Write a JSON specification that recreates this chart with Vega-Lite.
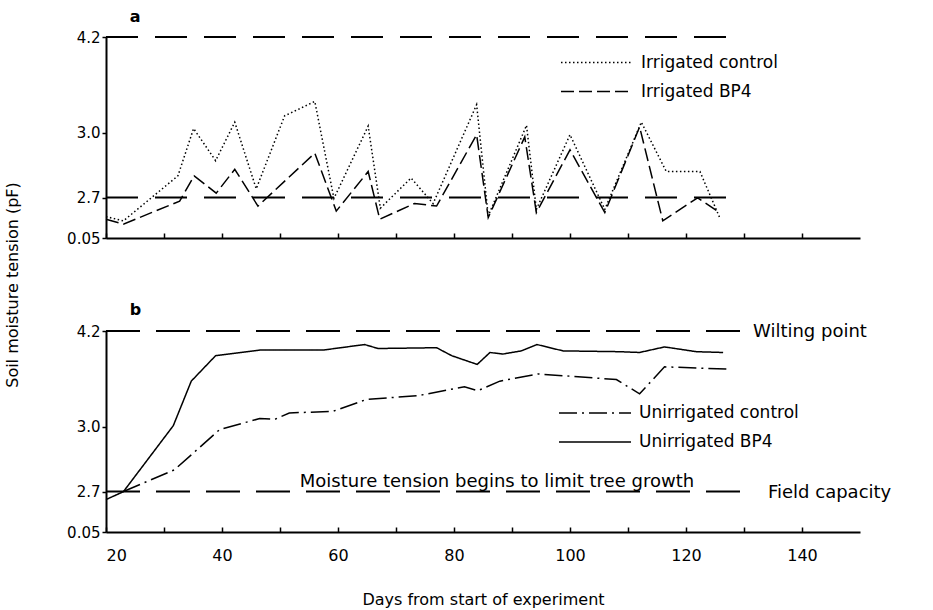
{
  "$schema": "https://vega.github.io/schema/vega-lite/v6.json",
  "background": "white",
  "padding": {"left": 3, "top": 9, "right": 5, "bottom": 5},
  "bounds": "flush",
  "spacing": 93,
  "config": {
    "font": "DejaVu Sans",
    "view": {"stroke": null},
    "axis": {"grid": false, "domainColor": "black", "domainWidth": 2, "tickColor": "black", "tickWidth": 1.5, "labelColor": "black", "titleColor": "black", "titleFontWeight": "normal"},
    "line": {"color": "black"},
    "legend": {"orient": "none", "title": null, "symbolType": "M-4,0H4", "symbolSize": 324, "symbolStrokeWidth": 1.5, "symbolStrokeColor": "black", "symbolFillColor": "transparent", "labelFontSize": 17, "labelColor": "black", "labelOffset": 34, "padding": 0, "rowPadding": 11}
  },
  "datasets": {
    "irrigated": [
      {"day": 20, "pF": 1.45, "series": "Irrigated control"},
      {"day": 23, "pF": 1.17, "series": "Irrigated control"},
      {"day": 32.4, "pF": 2.8, "series": "Irrigated control"},
      {"day": 35.1, "pF": 3.05, "series": "Irrigated control"},
      {"day": 38.9, "pF": 2.87, "series": "Irrigated control"},
      {"day": 42.2, "pF": 3.13, "series": "Irrigated control"},
      {"day": 45.9, "pF": 2.74, "series": "Irrigated control"},
      {"day": 50.8, "pF": 3.21, "series": "Irrigated control"},
      {"day": 54, "pF": 3.32, "series": "Irrigated control"},
      {"day": 56, "pF": 3.39, "series": "Irrigated control"},
      {"day": 59.3, "pF": 2.64, "series": "Irrigated control"},
      {"day": 65.2, "pF": 3.08, "series": "Irrigated control"},
      {"day": 67.3, "pF": 2.0, "series": "Irrigated control"},
      {"day": 72.6, "pF": 2.79, "series": "Irrigated control"},
      {"day": 76.4, "pF": 2.3, "series": "Irrigated control"},
      {"day": 83.9, "pF": 3.35, "series": "Irrigated control"},
      {"day": 85.9, "pF": 1.49, "series": "Irrigated control"},
      {"day": 92.5, "pF": 3.09, "series": "Irrigated control"},
      {"day": 94.2, "pF": 1.92, "series": "Irrigated control"},
      {"day": 100, "pF": 2.99, "series": "Irrigated control"},
      {"day": 106, "pF": 1.92, "series": "Irrigated control"},
      {"day": 112.3, "pF": 3.13, "series": "Irrigated control"},
      {"day": 116.6, "pF": 2.82, "series": "Irrigated control"},
      {"day": 122.4, "pF": 2.82, "series": "Irrigated control"},
      {"day": 125.8, "pF": 1.39, "series": "Irrigated control"},
      {"day": 20, "pF": 1.28, "series": "Irrigated BP4"},
      {"day": 23, "pF": 0.96, "series": "Irrigated BP4"},
      {"day": 32.7, "pF": 2.46, "series": "Irrigated BP4"},
      {"day": 35.2, "pF": 2.8, "series": "Irrigated BP4"},
      {"day": 39, "pF": 2.72, "series": "Irrigated BP4"},
      {"day": 42.2, "pF": 2.83, "series": "Irrigated BP4"},
      {"day": 46.2, "pF": 2.14, "series": "Irrigated BP4"},
      {"day": 56, "pF": 2.905, "series": "Irrigated BP4"},
      {"day": 59.7, "pF": 1.81, "series": "Irrigated BP4"},
      {"day": 65.2, "pF": 2.82, "series": "Irrigated BP4"},
      {"day": 67.2, "pF": 1.28, "series": "Irrigated BP4"},
      {"day": 73.2, "pF": 2.31, "series": "Irrigated BP4"},
      {"day": 77, "pF": 2.14, "series": "Irrigated BP4"},
      {"day": 83.9, "pF": 2.99, "series": "Irrigated BP4"},
      {"day": 85.9, "pF": 1.39, "series": "Irrigated BP4"},
      {"day": 92.2, "pF": 2.98, "series": "Irrigated BP4"},
      {"day": 94.2, "pF": 1.71, "series": "Irrigated BP4"},
      {"day": 100, "pF": 2.92, "series": "Irrigated BP4"},
      {"day": 106, "pF": 1.71, "series": "Irrigated BP4"},
      {"day": 112, "pF": 3.07, "series": "Irrigated BP4"},
      {"day": 116, "pF": 1.17, "series": "Irrigated BP4"},
      {"day": 122, "pF": 2.68, "series": "Irrigated BP4"},
      {"day": 125.8, "pF": 1.71, "series": "Irrigated BP4"}
    ],
    "unirrigated": [
      {"day": 23, "pF": 2.7, "series": "Unirrigated control"},
      {"day": 31.8, "pF": 2.8, "series": "Unirrigated control"},
      {"day": 39.6, "pF": 2.986, "series": "Unirrigated control"},
      {"day": 46.5, "pF": 3.1, "series": "Unirrigated control"},
      {"day": 49.1, "pF": 3.09, "series": "Unirrigated control"},
      {"day": 51.6, "pF": 3.17, "series": "Unirrigated control"},
      {"day": 59.1, "pF": 3.19, "series": "Unirrigated control"},
      {"day": 64.9, "pF": 3.34, "series": "Unirrigated control"},
      {"day": 74, "pF": 3.39, "series": "Unirrigated control"},
      {"day": 81.8, "pF": 3.5, "series": "Unirrigated control"},
      {"day": 84.1, "pF": 3.45, "series": "Unirrigated control"},
      {"day": 87.9, "pF": 3.57, "series": "Unirrigated control"},
      {"day": 94.5, "pF": 3.66, "series": "Unirrigated control"},
      {"day": 100.5, "pF": 3.63, "series": "Unirrigated control"},
      {"day": 108, "pF": 3.59, "series": "Unirrigated control"},
      {"day": 112, "pF": 3.41, "series": "Unirrigated control"},
      {"day": 116.3, "pF": 3.75, "series": "Unirrigated control"},
      {"day": 127.5, "pF": 3.72, "series": "Unirrigated control"},
      {"day": 20, "pF": 2.17, "series": "Unirrigated BP4"},
      {"day": 23, "pF": 2.69, "series": "Unirrigated BP4"},
      {"day": 31.6, "pF": 3.01, "series": "Unirrigated BP4"},
      {"day": 34.7, "pF": 3.57, "series": "Unirrigated BP4"},
      {"day": 38.9, "pF": 3.89, "series": "Unirrigated BP4"},
      {"day": 46.5, "pF": 3.96, "series": "Unirrigated BP4"},
      {"day": 57.4, "pF": 3.96, "series": "Unirrigated BP4"},
      {"day": 64.6, "pF": 4.03, "series": "Unirrigated BP4"},
      {"day": 66.9, "pF": 3.98, "series": "Unirrigated BP4"},
      {"day": 77, "pF": 3.99, "series": "Unirrigated BP4"},
      {"day": 79.6, "pF": 3.89, "series": "Unirrigated BP4"},
      {"day": 84, "pF": 3.78, "series": "Unirrigated BP4"},
      {"day": 86.2, "pF": 3.93, "series": "Unirrigated BP4"},
      {"day": 88.4, "pF": 3.91, "series": "Unirrigated BP4"},
      {"day": 91.6, "pF": 3.95, "series": "Unirrigated BP4"},
      {"day": 94.3, "pF": 4.03, "series": "Unirrigated BP4"},
      {"day": 98.8, "pF": 3.95, "series": "Unirrigated BP4"},
      {"day": 108.6, "pF": 3.94, "series": "Unirrigated BP4"},
      {"day": 112, "pF": 3.93, "series": "Unirrigated BP4"},
      {"day": 116.3, "pF": 4.0, "series": "Unirrigated BP4"},
      {"day": 121.8, "pF": 3.94, "series": "Unirrigated BP4"},
      {"day": 126.4, "pF": 3.93, "series": "Unirrigated BP4"}
    ],
    "levels": [
      {"pF": 4.2, "label": "Wilting point"},
      {"pF": 2.7, "label": "Field capacity"}
    ],
    "note": [
      {"pF": 2.7, "label": "Moisture tension begins to limit tree growth"}
    ]
  },
  "vconcat": [
    {
      "width": 754,
      "height": 201,
      "layer": [
        {
          "data": {"name": "levels"},
          "mark": {"type": "rule", "strokeWidth": 2, "strokeDash": [32, 17], "color": "black"},
          "encoding": {
            "y": {"field": "pF", "type": "quantitative",
                  "scale": {"type": "linear", "domain": [0.05, 2.7, 3.0, 4.2], "range": [201, 160.5, 95.5, 0], "zero": false, "nice": false},
                  "axis": {"title": null, "values": [0.05, 2.7, 3.0, 4.2], "labelExpr": "datum.value < 1 ? '0.05' : format(datum.value, '.1f')", "tickSize": 4, "labelPadding": 2, "labelFontSize": 15}},
            "x": {"datum": 20, "type": "quantitative",
                  "scale": {"domain": [20, 150], "nice": false, "zero": false},
                  "axis": {"title": null, "values": [20, 30, 40, 50, 60, 70, 80, 90, 100, 110, 120, 130, 140], "labels": false, "tickSize": -5}},
            "x2": {"datum": 129.5}
          }
        },
        {
          "data": {"values": [{"panel": "a"}]},
          "mark": {"type": "text", "align": "left", "baseline": "alphabetic", "dy": -15, "fontSize": 16, "fontWeight": "bold", "color": "black"},
          "encoding": {
            "x": {"datum": 24.1, "type": "quantitative"},
            "y": {"datum": 4.2, "type": "quantitative"},
            "text": {"field": "panel"}
          }
        },
        {
          "data": {"name": "irrigated"},
          "mark": {"type": "line", "strokeWidth": 1.5, "color": "black"},
          "encoding": {
            "x": {"field": "day", "type": "quantitative"},
            "y": {"field": "pF", "type": "quantitative"},
            "strokeDash": {"field": "series", "type": "nominal",
                           "scale": {"domain": ["Irrigated control", "Irrigated BP4"], "range": [[1.5, 2.5], [13, 5]]},
                           "legend": {"legendX": 481, "legendY": 15.5}}
          }
        }
      ]
    },
    {
      "width": 754,
      "height": 201,
      "layer": [
        {
          "data": {"name": "levels"},
          "mark": {"type": "rule", "strokeWidth": 2, "strokeDash": [34, 16], "color": "black"},
          "encoding": {
            "y": {"field": "pF", "type": "quantitative",
                  "scale": {"type": "linear", "domain": [0.05, 2.7, 3.0, 4.2], "range": [201, 160.5, 95.5, 0], "zero": false, "nice": false},
                  "axis": {"title": "Soil moisture tension (pF)", "titleFontSize": 16, "titleAngle": 270, "titleX": -94, "titleY": -46.5, "titleAlign": "center", "titleBaseline": "middle",
                           "values": [0.05, 2.7, 3.0, 4.2], "labelExpr": "datum.value < 1 ? '0.05' : format(datum.value, '.1f')", "tickSize": 4, "labelPadding": 2, "labelFontSize": 15}},
            "x": {"datum": 20, "type": "quantitative",
                  "scale": {"domain": [20, 150], "nice": false, "zero": false},
                  "axis": {"title": "Days from start of experiment", "titleFontSize": 16, "titlePadding": 28,
                           "values": [20, 30, 40, 50, 60, 70, 80, 90, 100, 110, 120, 130, 140],
                           "labelExpr": "datum.value % 20 == 0 ? datum.label : ''", "labelFontSize": 16, "tickSize": -5, "labelPadding": 20}},
            "x2": {"datum": 130}
          }
        },
        {
          "data": {"values": [{"panel": "b"}]},
          "mark": {"type": "text", "align": "left", "baseline": "alphabetic", "dy": -16, "fontSize": 16, "fontWeight": "bold", "color": "black"},
          "encoding": {
            "x": {"datum": 24.1, "type": "quantitative"},
            "y": {"datum": 4.2, "type": "quantitative"},
            "text": {"field": "panel"}
          }
        },
        {
          "data": {"name": "levels"},
          "transform": [{"filter": "datum.pF > 4"}],
          "mark": {"type": "text", "align": "left", "baseline": "middle", "dx": 9, "dy": 1, "fontSize": 18, "color": "black"},
          "encoding": {
            "x": {"datum": 130, "type": "quantitative"},
            "y": {"field": "pF", "type": "quantitative"},
            "text": {"field": "label"}
          }
        },
        {
          "data": {"name": "levels"},
          "transform": [{"filter": "datum.pF < 4"}],
          "mark": {"type": "text", "align": "left", "baseline": "middle", "dx": 24, "dy": 1, "fontSize": 18, "color": "black"},
          "encoding": {
            "x": {"datum": 130, "type": "quantitative"},
            "y": {"field": "pF", "type": "quantitative"},
            "text": {"field": "label"}
          }
        },
        {
          "data": {"name": "note"},
          "mark": {"type": "text", "align": "center", "baseline": "alphabetic", "dy": -5, "fontSize": 18, "color": "black"},
          "encoding": {
            "x": {"datum": 87.4, "type": "quantitative"},
            "y": {"field": "pF", "type": "quantitative"},
            "text": {"field": "label"}
          }
        },
        {
          "data": {"name": "unirrigated"},
          "mark": {"type": "line", "strokeWidth": 1.5, "color": "black"},
          "encoding": {
            "x": {"field": "day", "type": "quantitative"},
            "y": {"field": "pF", "type": "quantitative"},
            "strokeDash": {"field": "series", "type": "nominal",
                           "scale": {"domain": ["Unirrigated control", "Unirrigated BP4"], "range": [[18, 5, 2, 5], [1, 0]]},
                           "legend": {"legendX": 479, "legendY": 72}}
          }
        }
      ]
    }
  ],
  "resolve": {"scale": {"x": "independent", "y": "independent", "strokeDash": "independent"}, "legend": {"strokeDash": "independent"}}
}
